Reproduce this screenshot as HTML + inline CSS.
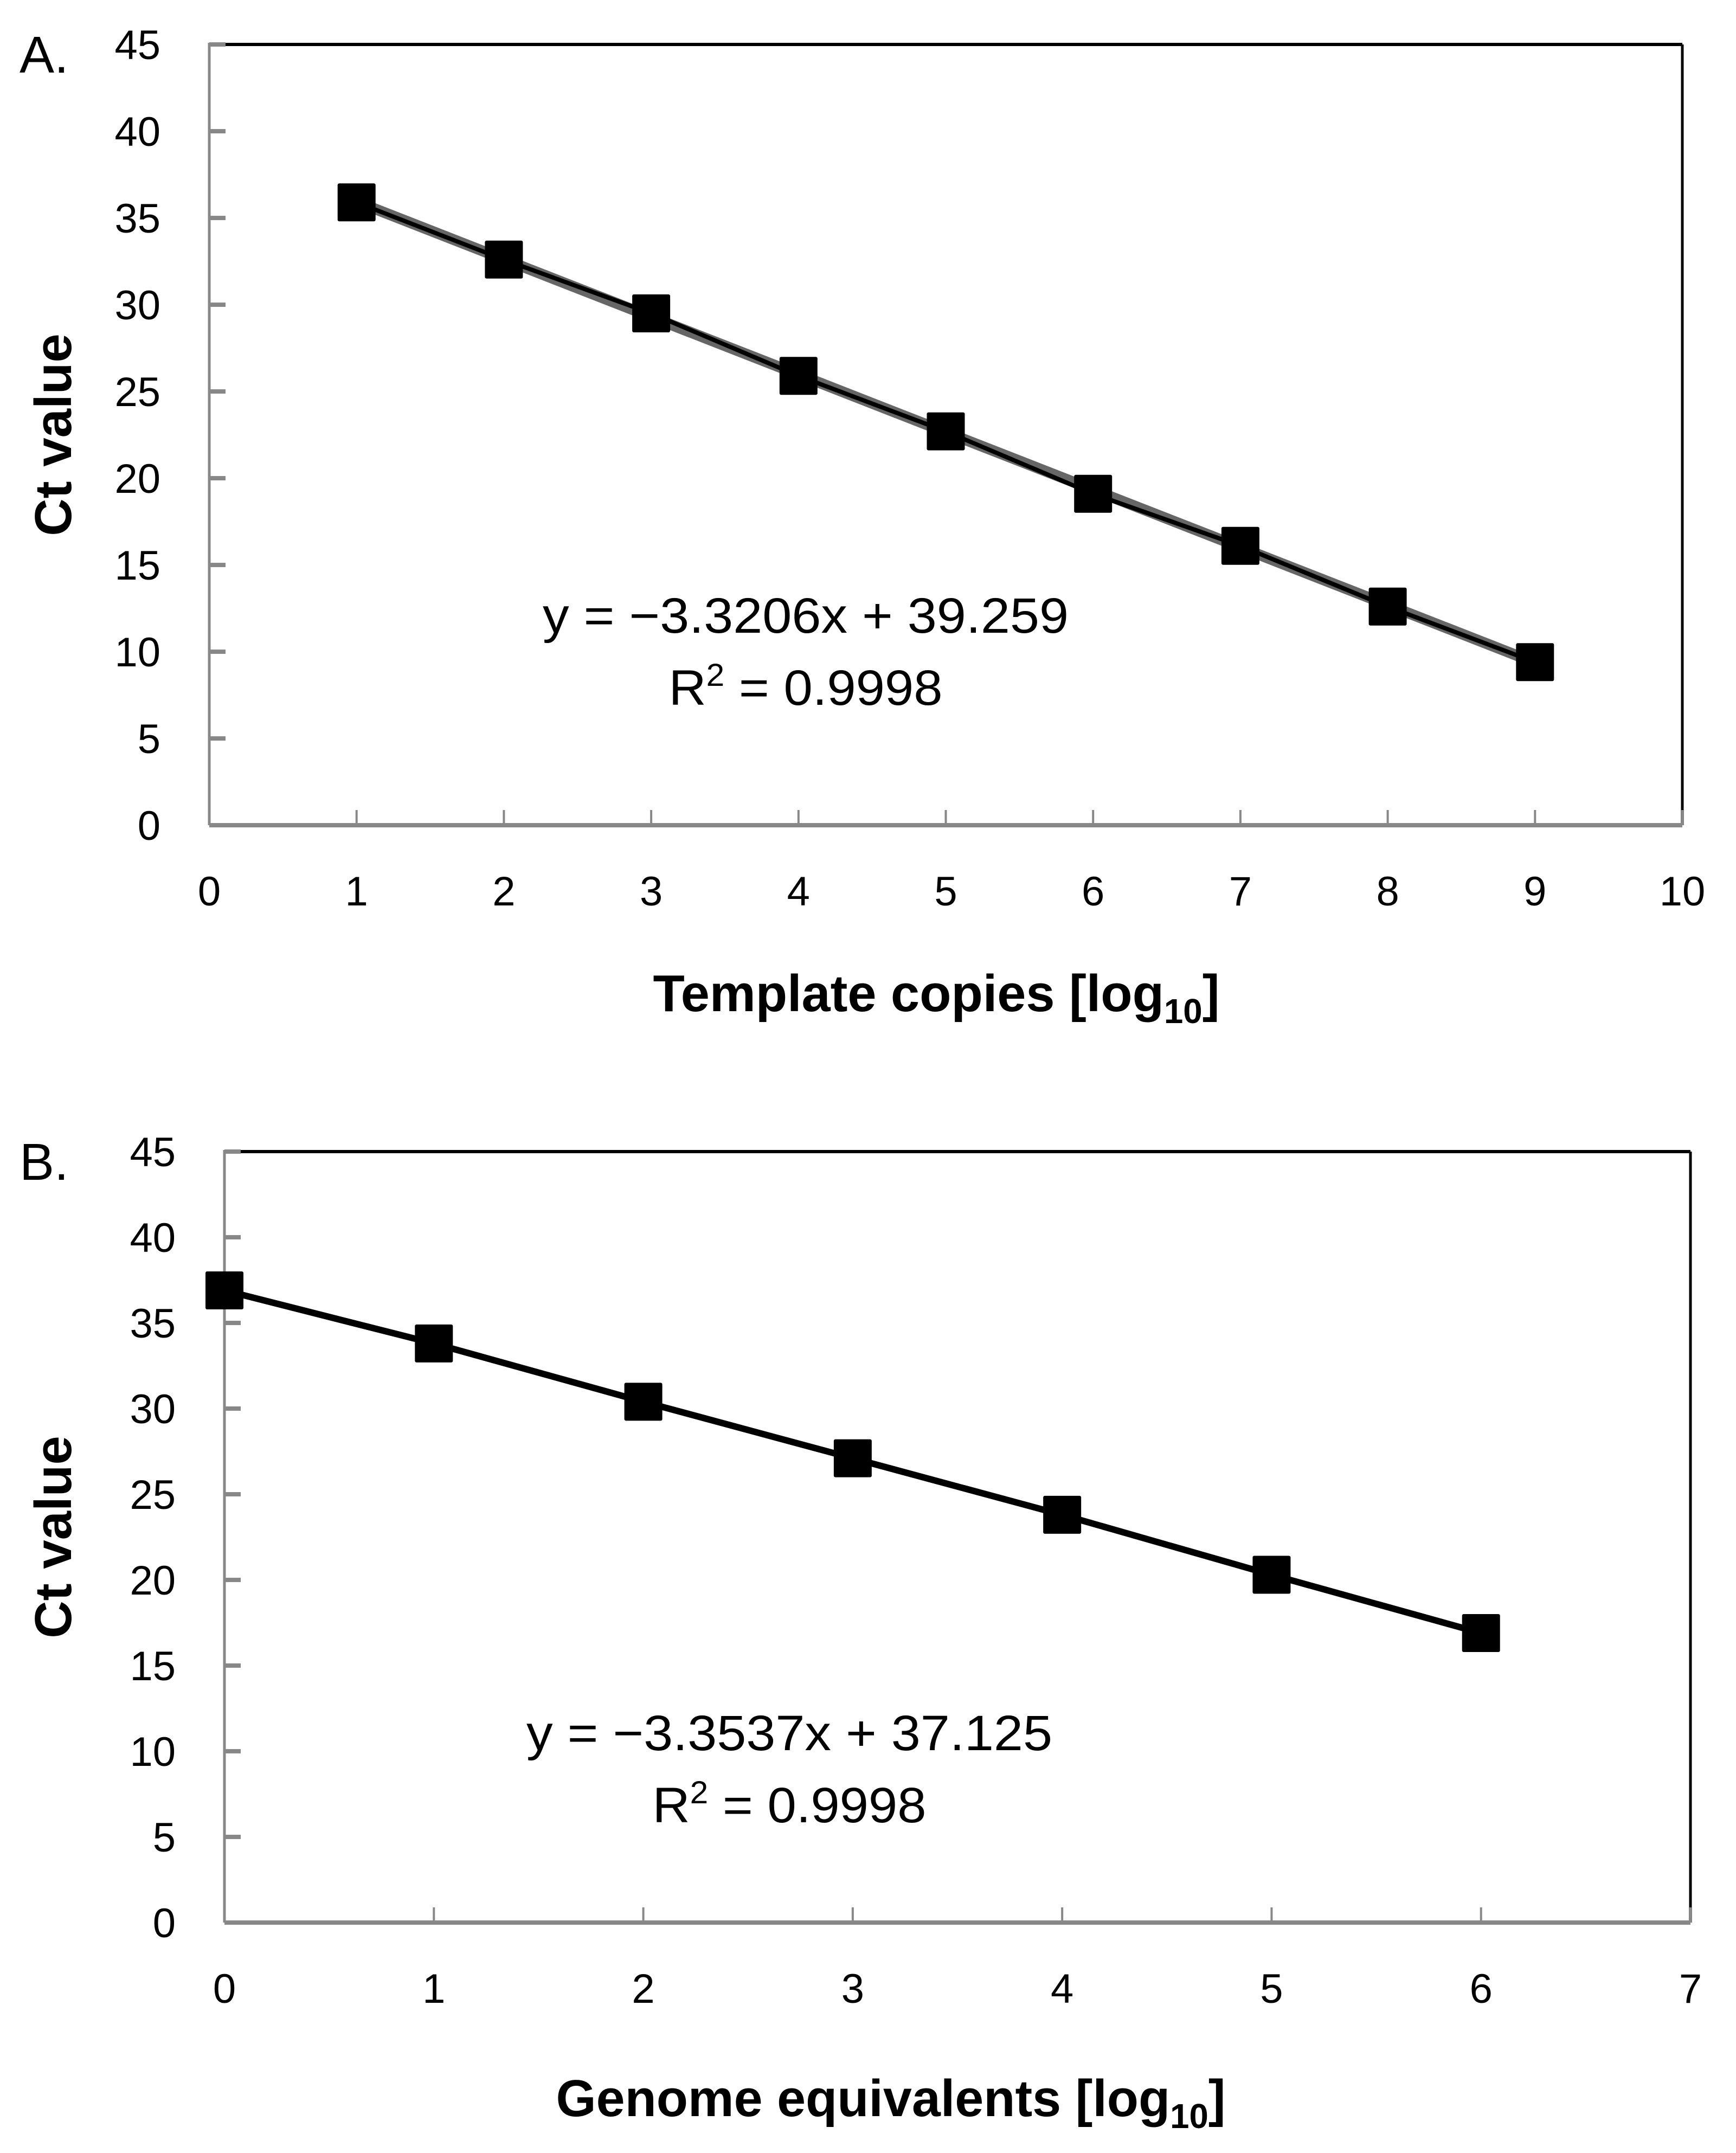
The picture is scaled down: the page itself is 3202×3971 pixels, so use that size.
<!DOCTYPE html>
<html><head><meta charset="utf-8"><style>
html,body{margin:0;padding:0;background:#fff}
svg{display:block;font-family:"Liberation Sans",sans-serif}
</style></head><body>
<svg id="fig" width="3202" height="3971" viewBox="0 0 3202 3971" xmlns="http://www.w3.org/2000/svg">
<rect width="3202" height="3971" fill="#fff"/>
<g id="chartA"></g>
<g id="chartB"></g>
</svg>
<script>
const catsA = [1,2,3,4,5,6,7,8,9];
const valsA = [35.9,32.6,29.5,25.9,22.7,19.1,16.1,12.6,9.4];
const xTicksA = [0,1,2,3,4,5,6,7,8,9,10];
const catsB = [0,1,2,3,4,5,6];
const valsB = [36.9,33.8,30.4,27.1,23.8,20.3,16.9];
const xTicksB = [0,1,2,3,4,5,6,7];
const yTicks = [0,5,10,15,20,25,30,35,40,45];
const trendA = [-3.3206, 39.259];
const eqA = ["y = \u22123.3206x + 39.259", "0.9998"];
const eqB = ["y = \u22123.3537x + 37.125", "0.9998"];

const NS = "http://www.w3.org/2000/svg";
function mk(parent, tag, attrs, text){
  const e = document.createElementNS(NS, tag);
  for (const k in attrs) e.setAttribute(k, attrs[k]);
  if (text !== undefined) e.textContent = text;
  parent.appendChild(e);
  return e;
}

function drawChart(g, cfg){
  const {L,R,T,B,xMax,cats,vals,xTicks,trend,eq,letter,xTitle,eqX,eqY,eqW,rW} = cfg;
  const sx = v => L + (R - L) * v / xMax;
  const sy = v => B - (B - T) * v / 45;
  let e;
  e = mk(g,'line',{x1:L,y1:T,x2:R,y2:T,stroke:'#000','stroke-width':6});
   
  e = mk(g,'line',{x1:R,y1:T,x2:R,y2:B,stroke:'#000','stroke-width':5});
   
  e = mk(g,'line',{x1:L,y1:T-3,x2:L,y2:B,stroke:'#888','stroke-width':5});
   
  yTicks.forEach(v=>{
    const y = sy(v);
    if (v>0){
      const t = mk(g,'line',{x1:L,y1:y,x2:L+30,y2:y,stroke:'#888','stroke-width':8});
       
    }
    const lb = mk(g,'text',{x:L-90,y:y+27,'text-anchor':'end','font-size':76,fill:'#000'}, String(v));
     
  });
  xTicks.forEach(v=>{
    const x = sx(v);
    if (v>0){
      const t = mk(g,'line',{x1:x,y1:B,x2:x,y2:B-28,stroke:'#888','stroke-width':4});
       
    }
    const lb = mk(g,'text',{x:x,y:B+148,'text-anchor':'middle','font-size':76,fill:'#000'}, String(v));
     
  });
  e = mk(g,'line',{x1:L,y1:B,x2:R,y2:B,stroke:'#888','stroke-width':8});
   
  if (trend){
    const x0 = cats[0], x1 = cats[cats.length-1];
    const tl = mk(g,'line',{x1:sx(x0),y1:sy(trend[0]*x0+trend[1]),x2:sx(x1),y2:sy(trend[0]*x1+trend[1]),stroke:'#666','stroke-width':20});
     
  }
  const pts = cats.map((c,i)=>sx(c)+','+sy(vals[i])).join(' ');
  const pl = mk(g,'polyline',{points:pts,fill:'none',stroke:'#000','stroke-width':trend?8:12});
   
  cats.forEach((c,i)=>{
    const m = mk(g,'rect',{x:sx(c)-35,y:sy(vals[i])-35,width:70,height:70,rx:3,fill:'#000'});
     
  });
  const t1 = mk(g,'text',{x:eqX,y:eqY,'text-anchor':'middle','font-size':92,textLength:eqW,lengthAdjust:'spacingAndGlyphs'}, eq[0]);
   
  const t2 = mk(g,'text',{x:eqX,y:eqY+133,'text-anchor':'middle','font-size':92,textLength:rW,lengthAdjust:'spacingAndGlyphs'});
   
  t2.appendChild(document.createTextNode('R'));
  mk(t2,'tspan',{dy:-35,'font-size':58},'2');
  mk(t2,'tspan',{dy:35},' = '+eq[1]);
  const pl2 = mk(g,'text',{x:36,y:T+52,'font-size':96}, letter);
   
  const yc = (T+B)/2;
  const yt = mk(g,'text',{x:0,y:0,'text-anchor':'middle','font-size':96,'font-weight':'bold',transform:`translate(${97+34},${yc}) rotate(-90)`}, 'Ct value');
   
  const xt = mk(g,'text',{x:cfg.xtX,y:cfg.xtY,'text-anchor':'middle','font-size':96,'font-weight':'bold',textLength:cfg.xtW,lengthAdjust:'spacingAndGlyphs'});
   
  xt.appendChild(document.createTextNode(xTitle+' [log'));
  mk(xt,'tspan',{dy:22,'font-size':64},'10');
  mk(xt,'tspan',{dy:-22},']');
}

drawChart(document.getElementById('chartA'),{L:386,R:3103,T:82,B:1522,xMax:10,cats:catsA,vals:valsA,xTicks:xTicksA,trend:trendA,eq:eqA,letter:'A.',xTitle:'Template copies',xtX:1727,xtY:1865,xtW:1045,eqX:1486,eqY:1167,eqW:970,rW:505});
drawChart(document.getElementById('chartB'),{L:414,R:3118,T:2124,B:3546,xMax:7,cats:catsB,vals:valsB,xTicks:xTicksB,trend:null,eq:eqB,letter:'B.',xTitle:'Genome equivalents',xtX:1643,xtY:3903,xtW:1235,eqX:1456,eqY:3228,eqW:970,rW:505});
</script>
</body></html>
